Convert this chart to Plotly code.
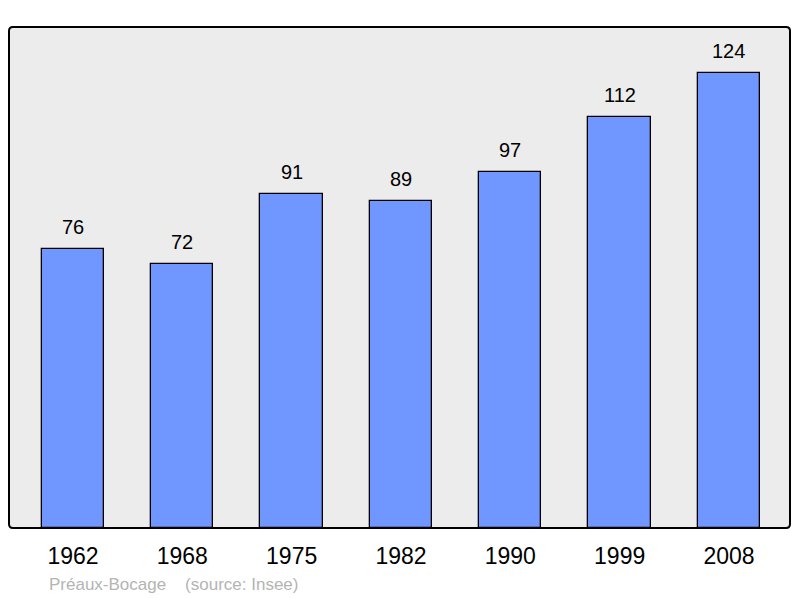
import plotly.graph_objects as go

# population data
years = ['1962', '1968', '1975', '1982', '1990', '1999', '2008']
population = [76, 72, 91, 89, 97, 112, 124]
town_name = 'Préaux-Bocage'
source_text = '(source: Insee)'

bar_color = '#7096ff'
plot_bgcolor = '#ececec'
label_font = 'Liberation Sans, Arial, sans-serif'

xpos = list(range(len(years)))

fig = go.Figure()
fig.add_trace(go.Bar(
    x=xpos,
    y=population,
    width=0.57,
    marker=dict(color=bar_color, line=dict(color='black', width=1.3)),
    hoverinfo='y',
))

# value labels above bars
for x, v in zip(xpos, population):
    fig.add_annotation(x=x, y=v, text=str(v), showarrow=False,
                       yanchor='middle', yshift=22,
                       font=dict(size=20, color='black', family=label_font))

# footer
fig.add_annotation(xref='paper', yref='paper', x=0.049, y=0, yshift=-56,
                   xanchor='left', yanchor='middle', showarrow=False,
                   text=town_name + '&nbsp;' * 4 + source_text,
                   font=dict(size=17, color='#b4b4b4', family=label_font))

# frame around plot area, slightly rounded corners
rx, ry = 0.005, 0.008
frame = (f'M {rx},0 L {1-rx},0 Q 1,0 1,{ry} L 1,{1-ry} Q 1,1 {1-rx},1 '
         f'L {rx},1 Q 0,1 0,{1-ry} L 0,{ry} Q 0,0 {rx},0 Z')
fig.add_shape(type='path', xref='paper', yref='paper', path=frame,
              line=dict(color='black', width=2), layer='above')

fig.update_xaxes(range=[-0.585, 6.558], tickvals=xpos, ticktext=years,
                 showgrid=False, zeroline=False, showline=False,
                 ticks='', ticklabelstandoff=12,
                 tickfont=dict(size=23, color='black', family=label_font))
fig.update_yaxes(range=[0, 136.5], visible=False, showgrid=False)

# page body has an 8px margin, so the figure is a bit smaller than the window
fig.update_layout(
    width=792, height=590,
    margin=dict(l=1, r=10, t=19, b=70),
    paper_bgcolor='white',
    plot_bgcolor=plot_bgcolor,
    showlegend=False,
    bargap=0,
)

fig.write_html('out.html')
